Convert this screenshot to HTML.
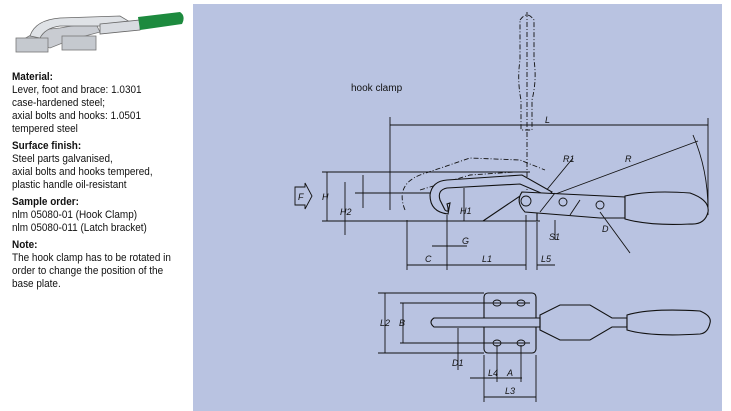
<!DOCTYPE html>
<html><head><meta charset="utf-8"><style>
body{margin:0;width:731px;height:411px;background:#fff;position:relative;overflow:hidden;font-family:"Liberation Sans",sans-serif;}
.t{position:absolute;left:12px;font-size:10.6px;line-height:13px;color:#111;transform:scaleX(0.94);transform-origin:left;white-space:nowrap}
.t b{display:block;margin-top:4px}
.panel{position:absolute;left:193px;top:4px;width:529px;height:407px;background:#b9c3e1}
svg text{font-family:"Liberation Sans",sans-serif;font-style:italic;font-size:9px;fill:#111}
</style></head><body>
<svg style="position:absolute;left:0;top:0" width="195" height="70">
 <path d="M22 40 L40 30 L60 28 L95 22 L100 32 L70 40 L50 48 Z" fill="#c9ccd2" stroke="#777" stroke-width=".8"/>
 <path d="M30 36 Q35 20 60 18 L120 16 L130 22 L100 26 L60 26 Q45 28 40 38 Z" fill="#dfe2e6" stroke="#666" stroke-width=".8"/>
 <path d="M100 24 L140 20 L140 30 L100 34 Z" fill="#d8dbe0" stroke="#666" stroke-width=".8"/>
 <rect x="16" y="38" width="32" height="14" fill="#c5c9cf" stroke="#777" stroke-width=".8"/>
 <rect x="62" y="36" width="34" height="14" fill="#c5c9cf" stroke="#777" stroke-width=".8"/>
 <path d="M138 17 L180 12 Q186 16 182 24 L140 30 Z" fill="#1d8a3e"/>
</svg>
<div class="t" style="top:71px"><b style="margin:0">Material:</b>Lever, foot and brace: 1.0301<br>case-hardened steel;<br>axial bolts and hooks: 1.0501<br>tempered steel<b>Surface finish:</b>Steel parts galvanised,<br>axial bolts and hooks tempered,<br>plastic handle oil-resistant<b>Sample order:</b>nlm 05080-01 (Hook Clamp)<br>nlm 05080-011 (Latch bracket)<b>Note:</b>The hook clamp has to be rotated in<br>order to change the position of the<br>base plate.</div>
<div class="panel"></div>
<svg style="position:absolute;left:0;top:0" width="731" height="411" fill="none" stroke="#111" stroke-width="0.9">
 <text x="351" y="91" style="font-style:normal;font-size:10px" stroke="none">hook clamp</text>
 <g stroke-dasharray="5,2,1,2">
  <path d="M520 20 Q527 10 534 20 L534 60 Q537 80 532 100 L532 130 L521 130 L521 100 Q517 80 520 60 Z"/>
  <line x1="527" y1="12" x2="527" y2="200"/>
  <path d="M405 210 Q395 185 420 175 L470 158 L520 160 L545 170 M420 190 L470 175 L515 172"/>
 </g>
 <line x1="390" y1="125" x2="708" y2="125"/><line x1="390" y1="117" x2="390" y2="210"/>
 <line x1="708" y1="118" x2="708" y2="215"/>
 <text x="545" y="123" stroke="none">L</text>
 <line x1="526" y1="205" x2="698" y2="141"/><text x="625" y="162" stroke="none">R</text>
 <path d="M693 135 Q708 170 708 210"/>
 <line x1="545" y1="192" x2="573" y2="158"/><text x="563" y="162" stroke="none">R1</text>
 <line x1="322" y1="172" x2="530" y2="172"/><line x1="322" y1="221" x2="540" y2="221"/>
 <line x1="327" y1="172" x2="327" y2="221"/><text x="322" y="200" stroke="none">H</text>
 <line x1="345" y1="182" x2="345" y2="235"/><text x="340" y="215" stroke="none">H2</text>
 <line x1="363" y1="175" x2="363" y2="208"/><line x1="355" y1="193" x2="440" y2="193"/>
 <line x1="464" y1="188" x2="464" y2="221"/><text x="460" y="214" stroke="none">H1</text>
 <path d="M295 187 L305 187 L305 183 L312 196 L305 209 L305 205 L295 205 Z"/><text x="298" y="200" stroke="none">F</text>
 <path d="M447 180 L522 175 L552 192 L548 196 L520 184 L447 188 Q437 190 440 200 L445 210 Q450 214 447 204 L450 203 L448 214 Q430 212 430 195 Q432 181 447 180 Z" fill="#b9c3e1" stroke-width="1.1"/>
 <path d="M483 221 L520 196 L537 196 L537 221 Z" fill="#b9c3e1" stroke-width="1.1"/>
 <path d="M522 192 L625 197 L625 218 L600 218 L525 212 Q515 202 522 192 Z" fill="#b9c3e1" stroke-width="1.1"/>
 <path d="M625 196 Q650 190 690 193 Q710 200 708 212 Q705 225 690 224 Q650 226 625 219 Z" fill="#b9c3e1" stroke-width="1.1"/>
 <circle cx="526" cy="201" r="5"/><circle cx="563" cy="202" r="4"/><circle cx="600" cy="205" r="4"/>
 <line x1="540" y1="212" x2="555" y2="193"/><line x1="570" y1="215" x2="580" y2="200"/>
 <line x1="600" y1="212" x2="630" y2="253"/><text x="602" y="232" stroke="none">D</text>
 <line x1="555" y1="220" x2="555" y2="240"/><text x="549" y="240" stroke="none">S1</text>
 <line x1="407" y1="220" x2="407" y2="270"/><line x1="447" y1="215" x2="447" y2="270"/>
 <line x1="526" y1="215" x2="526" y2="270"/><line x1="537" y1="222" x2="537" y2="270"/>
 <line x1="407" y1="265" x2="526" y2="265"/><line x1="537" y1="265" x2="555" y2="265"/>
 <text x="425" y="262" stroke="none">C</text><text x="482" y="262" stroke="none">L1</text><text x="541" y="262" stroke="none">L5</text>
 <line x1="432" y1="246" x2="467" y2="246"/><text x="462" y="244" stroke="none">G</text>
 <rect x="484" y="293" width="52" height="60" rx="4" fill="#b9c3e1" stroke-width="1.1"/>
 <ellipse cx="497" cy="303" rx="4" ry="3"/><ellipse cx="521" cy="303" rx="4" ry="3"/>
 <ellipse cx="497" cy="343" rx="4" ry="3"/><ellipse cx="521" cy="343" rx="4" ry="3"/>
 <path d="M434 318 L540 318 L540 327 L434 327 Q428 322 434 318 Z" fill="#b9c3e1" stroke-width="1.1"/>
 <path d="M540 315 L560 305 L590 305 L612 318 L627 318 L627 327 L612 327 L590 340 L560 340 L540 330 Z" stroke-width="1.1"/>
 <path d="M627 315 Q650 308 700 311 Q712 316 710 323 Q708 333 700 334 Q650 337 627 330 Z" fill="#b9c3e1" stroke-width="1.1"/>
 <line x1="378" y1="293" x2="484" y2="293"/><line x1="378" y1="353" x2="484" y2="353"/>
 <line x1="385" y1="293" x2="385" y2="353"/><text x="380" y="326" stroke="none">L2</text>
 <line x1="400" y1="303" x2="530" y2="303"/><line x1="400" y1="343" x2="530" y2="343"/>
 <line x1="403" y1="303" x2="403" y2="343"/><text x="399" y="326" stroke="none">B</text>
 <line x1="458" y1="328" x2="458" y2="370"/><text x="452" y="366" stroke="none">D1</text>
 <line x1="484" y1="355" x2="484" y2="402"/><line x1="536" y1="355" x2="536" y2="402"/>
 <line x1="497" y1="345" x2="497" y2="382"/><line x1="521" y1="345" x2="521" y2="382"/>
 <line x1="470" y1="378" x2="522" y2="378"/><text x="488" y="376" stroke="none">L4</text><text x="507" y="376" stroke="none">A</text>
 <line x1="484" y1="397" x2="536" y2="397"/><text x="505" y="394" stroke="none">L3</text>
</svg>
</body></html>
